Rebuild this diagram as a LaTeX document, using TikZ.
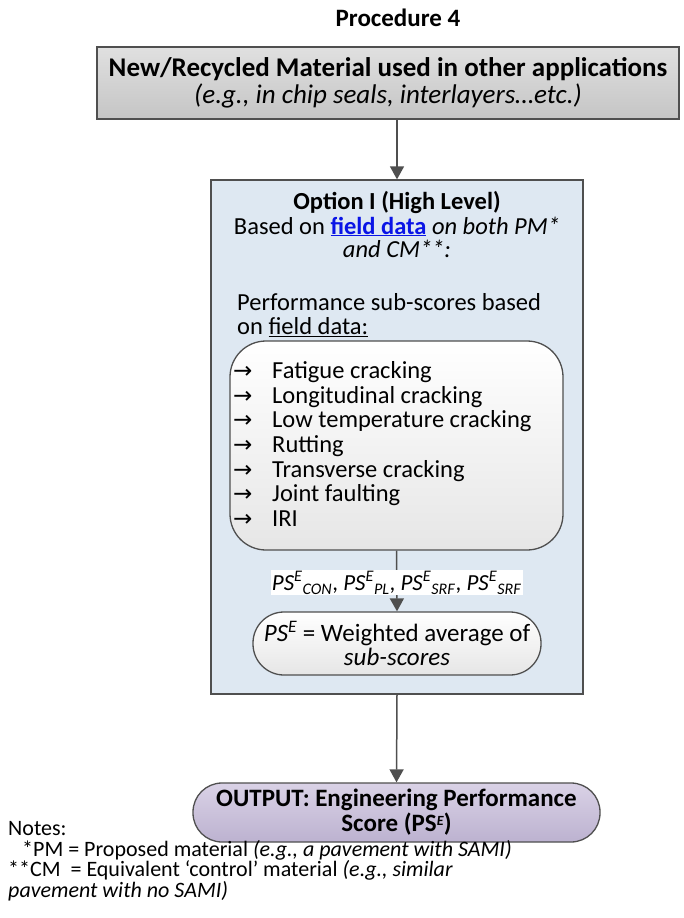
\documentclass[tikz,border=0pt]{standalone}
\usepackage{fontspec}
\setmainfont{Carlito}
\newfontfamily\symfont{DejaVu Sans}
\usetikzlibrary{arrows.meta,positioning}
\definecolor{edge}{HTML}{4F4F4F}
\definecolor{srcA}{HTML}{E0E0E0}
\definecolor{srcB}{HTML}{C5C5C5}
\definecolor{optfill}{HTML}{DEE8F2}
\definecolor{listB}{HTML}{E6E6E6}
\definecolor{lavA}{HTML}{DAD2E6}
\definecolor{lavB}{HTML}{BCB2D0}
\definecolor{linkblue}{HTML}{0A14E6}
\newcommand{\itemarrow}[1]{\makebox[39pt][l]{{\symfont\fontsize{23}{20}\selectfont →}}#1}
\newcommand{\psE}{\textit{PS}\textsuperscript{\textit{E}}}
\begin{document}
\begin{tikzpicture}[x=1pt,y=-1pt,
  boxline/.style={draw=edge, line width=1.3pt, inner sep=0pt, align=center},
  flow/.style={draw=edge, line width=1.5pt, -{Triangle[width=14pt,length=13pt]}},
  body/.style={font=\fontsize{24.5}{24}\selectfont},
  every node/.style={text=black}]
\useasboundingbox (0,0) rectangle (683,918);

% heading
\node[font=\bfseries\fontsize{25}{24}\selectfont] (heading) at (398,18) {Procedure 4};

% source material
\node[boxline, top color=srcA, bottom color=srcB, minimum width=582pt, minimum height=72pt,
      font=\fontsize{27}{27}\selectfont] (src) at (388,83)
  {\textbf{New/Recycled Material used in other applications}\\
   \textit{(e.g., in chip seals, interlayers\dots etc.)}};

% option I frame
\node[boxline, fill=optfill, minimum width=372pt, minimum height=514pt] (opt) at (397,437) {};
\node[body, align=center] (opttitle) at (397,225)
  {\textbf{Option I (High Level)}\\
   Based on \textcolor{linkblue}{\underline{\textbf{field data}}} \textit{on both PM*}\\
   \textit{and CM**:}};
\node[body, align=left, anchor=west, inner sep=0pt] (subhead) at (237,315)
  {Performance sub-scores based\\ on \underline{field data:}};

% list of distresses
\node[boxline, rounded corners=36pt, top color=white, bottom color=listB,
      minimum width=333pt, minimum height=209pt] (list) at (396.5,445.5) {};
\node[font=\fontsize{24.5}{24.6}\selectfont, align=left, anchor=west, inner sep=0pt] (items) at (233,444)
  {\itemarrow{Fatigue cracking}\\
   \itemarrow{Longitudinal cracking}\\
   \itemarrow{Low temperature cracking}\\
   \itemarrow{Rutting}\\
   \itemarrow{Transverse cracking}\\
   \itemarrow{Joint faulting}\\
   \itemarrow{IRI}};

% weighted average
\node[boxline, rounded corners=31pt, top color=white, bottom color=listB,
      minimum width=288pt, minimum height=63pt, font=\fontsize{25}{24}\selectfont] (wbox) at (397,643.5)
  {\psE{} = Weighted average of\\ \textit{sub-scores}};

% output
\node[boxline, rounded corners=29pt, top color=lavA, bottom color=lavB,
      minimum width=407pt, minimum height=59pt,
      font=\bfseries\fontsize{25}{25}\selectfont] (out) at (396.5,812.5)
  {OUTPUT: Engineering Performance\\ Score (PS\raisebox{6pt}{\fontsize{14}{14}\selectfont\textit{E}})};

% connectors
\draw[flow] (src.south -| opt.north) -- (opt.north);
\draw[flow] (list.south) -- (wbox.north)
  node[pos=0.53, fill=white, inner sep=1pt, font=\fontsize{23}{24}\selectfont] (sublabel)
  {\psE\textsubscript{\textit{CON}}, \psE\textsubscript{\textit{PL}}, \psE\textsubscript{\textit{SRF}}, \psE\textsubscript{\textit{SRF}}};
\draw[flow] (opt.south) -- (out.north);

% notes
\node[align=left, anchor=north west, inner sep=0pt, font=\fontsize{22}{20.7}\selectfont] (notes) at (8,821)
  {Notes:\\
   \hspace*{14pt}*PM = Proposed material \textit{(e.g., a pavement with SAMI)}\\
   **CM\ \ = Equivalent ‘control’ material \textit{(e.g., similar}\\
   \textit{pavement with no SAMI)}};
\end{tikzpicture}
\end{document}
